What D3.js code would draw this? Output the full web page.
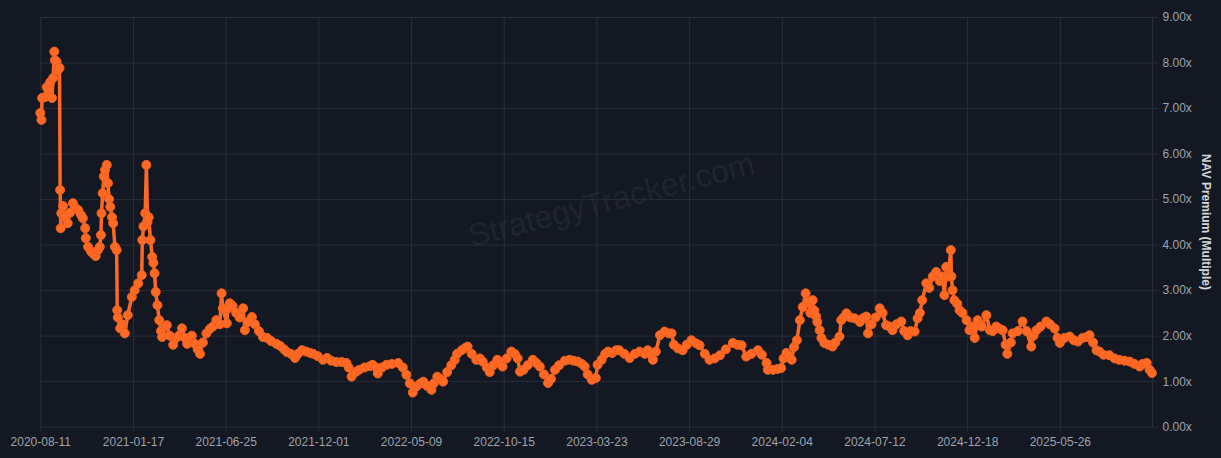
<!DOCTYPE html>
<html>
<head>
<meta charset="utf-8">
<script src="https://cdn.jsdelivr.net/npm/d3@7"></script>
<style>
  html, body { margin: 0; padding: 0; background: #131822; }
  svg { display: block; }
</style>
</head>
<body>
<svg id="chart" width="1221" height="458"></svg>
<script>
// ---- data ----
const startDate = "2020-08-11";
const endDate = "2025-11-01";
const tickLabels = ["2020-08-11","2021-01-17","2021-06-25","2021-12-01","2022-05-09","2022-10-15","2023-03-23","2023-08-29","2024-02-04","2024-07-12","2024-12-18","2025-05-26"];
const yTicks = [0,1,2,3,4,5,6,7,8,9];
// days since startDate
const dayOffsets = [0,2,3,8,11,14,17,20,22,24,25,28,30,33,34,35,36,39,42,47,51,56,61,65,70,73,77,78,82,87,90,95,99,102,104,105,107,109,111,114,116,118,120,123,125,128,131,132,133,137,140,145,150,157,162,168,174,175,177,180,182,184,186,189,192,194,196,198,201,204,207,209,214,217,222,228,233,238,243,248,252,257,260,265,270,274,279,285,291,296,302,308,311,313,320,322,325,330,336,342,348,351,356,363,368,375,382,389,396,405,411,418,423,430,437,442,449,456,463,468,476,485,492,499,508,517,525,529,534,541,547,556,565,570,576,579,586,594,603,614,622,628,634,639,645,652,657,663,671,675,681,686,691,698,705,711,715,723,729,733,740,748,754,759,766,771,777,784,790,793,800,808,814,819,823,829,836,845,851,857,864,871,876,883,890,900,908,915,922,929,934,939,946,953,956,963,969,974,981,988,993,1002,1011,1020,1028,1037,1042,1047,1051,1056,1063,1071,1078,1083,1087,1094,1102,1109,1117,1125,1131,1140,1148,1157,1166,1176,1188,1196,1203,1211,1220,1231,1238,1246,1248,1257,1265,1271,1275,1280,1284,1289,1293,1298,1303,1308,1313,1318,1321,1325,1328,1331,1333,1337,1340,1345,1352,1359,1364,1371,1374,1378,1383,1390,1397,1406,1411,1417,1420,1426,1433,1440,1445,1451,1457,1462,1469,1477,1482,1488,1493,1500,1505,1509,1513,1520,1525,1531,1537,1543,1548,1551,1554,1557,1562,1563,1565,1568,1573,1577,1582,1589,1594,1600,1603,1608,1615,1623,1629,1634,1640,1646,1651,1656,1659,1665,1668,1677,1685,1692,1700,1704,1709,1716,1726,1732,1740,1745,1749,1757,1766,1773,1780,1788,1795,1800,1806,1812,1817,1824,1834,1843,1851,1860,1869,1877,1886,1891,1898,1903,1907];
const premium = [6.89,6.74,7.22,7.24,7.46,7.40,7.57,7.22,7.66,8.24,8.05,8.02,7.83,7.88,5.20,4.36,4.69,4.85,4.60,4.47,4.70,4.91,4.80,4.76,4.65,4.58,4.36,4.14,3.95,3.85,3.81,3.75,3.88,3.95,4.21,4.69,5.13,5.50,5.64,5.75,5.35,5.00,4.83,4.60,4.47,3.95,3.88,2.56,2.40,2.16,2.25,2.05,2.45,2.85,3.00,3.15,3.33,4.10,4.40,4.69,5.75,4.50,4.60,4.10,3.73,3.60,3.37,2.96,2.67,2.34,2.10,1.97,2.20,2.23,2.00,1.80,1.95,2.00,2.16,1.95,1.82,1.95,2.00,1.82,1.70,1.60,1.85,2.05,2.15,2.20,2.34,2.25,2.93,2.60,2.27,2.60,2.71,2.65,2.50,2.40,2.60,2.12,2.30,2.41,2.25,2.10,1.97,1.95,1.88,1.82,1.78,1.70,1.64,1.60,1.51,1.60,1.68,1.65,1.62,1.60,1.55,1.47,1.51,1.45,1.42,1.42,1.40,1.30,1.10,1.20,1.25,1.30,1.33,1.36,1.30,1.17,1.30,1.36,1.38,1.40,1.30,1.14,0.95,0.75,0.88,0.95,0.99,0.90,0.81,0.95,1.10,1.05,0.99,1.20,1.35,1.47,1.60,1.68,1.73,1.76,1.60,1.47,1.50,1.43,1.30,1.20,1.35,1.47,1.40,1.32,1.50,1.65,1.60,1.50,1.21,1.25,1.35,1.47,1.40,1.32,1.15,0.96,1.05,1.25,1.35,1.45,1.47,1.45,1.43,1.38,1.32,1.15,1.03,1.07,1.36,1.47,1.60,1.65,1.62,1.68,1.68,1.60,1.51,1.60,1.65,1.60,1.68,1.60,1.47,1.65,2.01,2.09,2.05,2.05,1.80,1.72,1.68,1.80,1.90,1.83,1.79,1.60,1.47,1.50,1.57,1.70,1.84,1.80,1.79,1.54,1.60,1.68,1.58,1.40,1.25,1.25,1.27,1.29,1.50,1.62,1.55,1.47,1.75,1.90,2.34,2.63,2.93,2.75,2.50,2.78,2.55,2.42,2.30,2.12,1.95,1.84,1.80,1.76,1.85,1.98,2.34,2.40,2.49,2.40,2.38,2.30,2.38,2.42,2.05,2.25,2.40,2.60,2.50,2.23,2.20,2.12,2.25,2.31,2.10,2.01,2.10,2.09,2.38,2.50,2.78,3.15,3.05,3.30,3.40,3.20,3.30,2.89,3.51,3.30,3.88,3.30,3.00,2.78,2.70,2.56,2.50,2.34,2.12,2.20,1.95,2.34,2.20,2.45,2.12,2.10,2.20,2.15,2.12,1.80,1.60,1.85,2.05,2.10,2.31,2.10,1.76,2.00,2.12,2.20,2.31,2.25,2.16,1.95,1.84,1.95,1.98,1.90,1.87,1.95,1.97,2.01,1.85,1.68,1.65,1.58,1.57,1.50,1.47,1.45,1.43,1.38,1.32,1.38,1.40,1.25,1.18];

(function () {
const svg = d3.select("#chart");
const W = 1221, H = 458;
const pl = 40.3, pr = 1152.5, pt = 17, pb = 426.7;
const parse = d3.utcParse("%Y-%m-%d");
const t0 = parse(startDate);
const data = dayOffsets.map((d, i) => ({ date: d3.utcDay.offset(t0, d), v: premium[i] }));

const x = d3.scaleUtc().domain([t0, parse(endDate)]).range([pl, pr]);
const y = d3.scaleLinear().domain([0, 9]).range([pb, pt]);

svg.append("rect").attr("width", W).attr("height", H).attr("fill", "#131822");

const gridColor = "#282d39";
const textColor = "#9ea3ad";
const font = "Liberation Sans, Arial, sans-serif";

// watermark
svg.append("text")
  .attr("transform", "translate(612,202) rotate(-14.5)")
  .attr("text-anchor", "middle")
  .attr("dominant-baseline", "middle")
  .attr("font-family", font)
  .attr("font-size", 32)
  .attr("fill", "#1f2430")
  .text("StrategyTracker.com");

// horizontal grid + right axis
const yAxis = d3.axisRight(y)
  .tickValues(yTicks)
  .tickSize(5)
  .tickPadding(5)
  .tickFormat(d => d3.format(".2f")(d) + "x");
const gy = svg.append("g").attr("transform", `translate(${pr},0)`).call(yAxis);
gy.select(".domain").attr("stroke", gridColor).attr("d", `M0,${pt}V${pb}`);
gy.selectAll(".tick line").attr("stroke", gridColor).attr("x1", -(pr - pl)).attr("x2", 5);
gy.selectAll(".tick text")
  .attr("fill", textColor)
  .attr("font-family", font)
  .attr("font-size", 12);

// vertical grid + bottom axis
const xTickDates = tickLabels.map(parse);
const xAxis = d3.axisBottom(x)
  .tickValues(xTickDates)
  .tickSize(5)
  .tickPadding(6)
  .tickFormat(d3.utcFormat("%Y-%m-%d"));
const gx = svg.append("g").attr("transform", `translate(0,${pb})`).call(xAxis);
gx.select(".domain").remove();
gx.selectAll(".tick line").attr("stroke", gridColor).attr("y1", -(pb - pt)).attr("y2", 5);
gx.selectAll(".tick text")
  .attr("fill", textColor)
  .attr("font-family", font)
  .attr("font-size", 12);

// y axis title
svg.append("text")
  .attr("transform", "translate(1202,222) rotate(90)")
  .attr("text-anchor", "middle")
  .attr("font-family", font)
  .attr("font-weight", "bold")
  .attr("font-size", 12)
  .attr("fill", "#d4d7dd")
  .text("NAV Premium (Multiple)");

// line + markers
const orange = "#ff6924";
const line = d3.line().x(d => x(d.date)).y(d => y(d.v));
svg.append("path").datum(data)
  .attr("d", line)
  .attr("fill", "none")
  .attr("stroke", orange)
  .attr("stroke-width", 3.5)
  .attr("stroke-linejoin", "round");

svg.append("g").selectAll("circle").data(data).join("circle")
  .attr("cx", d => x(d.date))
  .attr("cy", d => y(d.v))
  .attr("r", 4.5)
  .attr("fill", orange)
  .attr("stroke", "#f0621f")
  .attr("stroke-width", 1);
})();
</script>
</body>
</html>
